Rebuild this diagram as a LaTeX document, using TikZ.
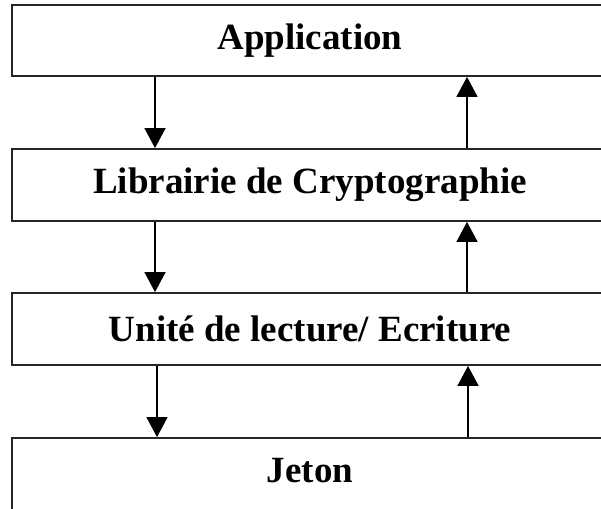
\documentclass[tikz,border=0pt]{standalone}
\usepackage{fontspec}
\setmainfont{Liberation Serif}
\usetikzlibrary{arrows.meta}
\begin{document}
\begin{tikzpicture}[x=1pt,y=-1pt,
  layer/.style={draw=black!85,line width=1.8pt,minimum width=596pt,inner sep=0pt,
    font=\bfseries\fontsize{37}{42}\selectfont},
  arr/.style={line width=1.4pt,-{Triangle[width=21pt,length=20pt]}}]
\useasboundingbox (0,0) rectangle (601,508);
\clip (0,0) rectangle (601,508);
\fill[white] (0,0) rectangle (601,508);
\node[layer,minimum height=71pt] (app) at (310,40.5) {Application};
\node[layer,minimum height=72pt] (lib) at (310,185) {Librairie de Cryptographie};
\node[layer,minimum height=72pt] (uni) at (310,329) {Unité de lecture/ Ecriture};
\node[layer,minimum height=74pt] (jet) at (310,475) {};
\node[font=\bfseries\fontsize{37}{42}\selectfont] (jt) at (310,471) {Jeton};
\coordinate (dx1) at (155,0);
\coordinate (dx2) at (157,0);
\coordinate (ux1) at (467,0);
\coordinate (ux2) at (468,0);
\draw[arr] (app.south -| dx1) -- (lib.north -| dx1);
\draw[arr] (lib.north -| ux1) -- (app.south -| ux1);
\draw[arr] (lib.south -| dx1) -- (uni.north -| dx1);
\draw[arr] (uni.north -| ux1) -- (lib.south -| ux1);
\draw[arr] (uni.south -| dx2) -- (jet.north -| dx2);
\draw[arr] (jet.north -| ux2) -- (uni.south -| ux2);
\end{tikzpicture}
\end{document}
